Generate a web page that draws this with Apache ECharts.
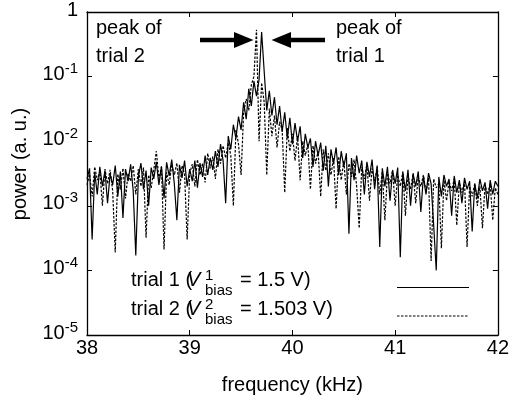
<!DOCTYPE html>
<html>
<head>
<meta charset="utf-8">
<script src="https://cdn.jsdelivr.net/npm/echarts@6/dist/echarts.min.js"></script>
<style>
html,body{margin:0;padding:0;background:#fff;}
#chart{width:512px;height:403px;}
</style>
</head>
<body>
<div id="chart"></div>
<script>
// frequency grid (kHz)
var freq = [
38,38.025,38.05,38.075,38.1,38.125,38.15,38.175,38.2,38.225,38.25,38.275,38.3,38.325,38.35,38.375,38.4,38.425,38.45,38.475,
38.5,38.525,38.55,38.575,38.6,38.625,38.65,38.675,38.7,38.725,38.75,38.775,38.8,38.825,38.85,38.875,38.9,38.925,38.95,38.975,
39,39.025,39.05,39.075,39.1,39.125,39.15,39.175,39.2,39.225,39.25,39.275,39.3,39.325,39.35,39.375,39.4,39.425,39.45,39.475,
39.5,39.525,39.55,39.575,39.6,39.625,39.65,39.675,39.7,39.725,39.75,39.775,39.8,39.825,39.85,39.875,39.9,39.925,39.95,39.975,
40,40.025,40.05,40.075,40.1,40.125,40.15,40.175,40.2,40.225,40.25,40.275,40.3,40.325,40.35,40.375,40.4,40.425,40.45,40.475,
40.5,40.525,40.55,40.575,40.6,40.625,40.65,40.675,40.7,40.725,40.75,40.775,40.8,40.825,40.85,40.875,40.9,40.925,40.95,40.975,
41,41.025,41.05,41.075,41.1,41.125,41.15,41.175,41.2,41.225,41.25,41.275,41.3,41.325,41.35,41.375,41.4,41.425,41.45,41.475,
41.5,41.525,41.55,41.575,41.6,41.625,41.65,41.675,41.7,41.725,41.75,41.775,41.8,41.825,41.85,41.875,41.9,41.925,41.95,41.975,
42
];

// trial 1 (V_bias^1 = 1.5 V) power, a.u.
var trial1 = [
2.6e-3,3.8e-3,3.0e-4,3.3e-3,1.5e-3,4.0e-3,2.0e-3,3.5e-3,1.1e-3,3.1e-3,
2.1e-3,4.2e-3,1.4e-3,3.4e-3,6.5e-4,3.7e-3,2.4e-3,4.4e-3,1.7e-3,1.7e-4,
2.8e-3,4.6e-3,1.8e-3,3.5e-3,1.0e-3,3.9e-3,2.6e-3,4.8e-3,2.1e-3,4.1e-3,
1.3e-3,4.7e-3,2.9e-3,5.2e-3,2.2e-3,6.0e-4,4.3e-3,2.7e-3,5.0e-3,2.0e-3,
3.7e-3,2.4e-3,5.0e-3,1.9e-3,4.6e-3,2.8e-3,6.0e-3,3.0e-3,5.5e-3,3.6e-3,
7.0e-3,4.0e-3,9.0e-3,5.0e-3,1.1e-3,1.2e-2,7.5e-3,1.8e-2,1.1e-2,2.4e-2,
1.5e-2,4.0e-2,2.2e-2,6.5e-2,3.5e-2,8.5e-2,5.0e-2,9.0e-2,0.49,0.12,
3.0e-2,6.0e-2,2.5e-2,4.8e-2,1.8e-2,3.5e-2,1.4e-2,2.8e-2,1.1e-2,2.3e-2,
9.0e-3,1.9e-2,1.0e-2,1.7e-2,5.5e-3,1.3e-2,8.0e-3,1.1e-2,4.0e-3,1.0e-2,
6.0e-3,9.5e-3,3.5e-3,8.5e-3,2.0e-3,7.5e-3,4.5e-3,8.0e-3,3.0e-3,7.0e-3,
4.0e-3,6.5e-3,3.7e-4,5.5e-3,2.5e-3,6.0e-3,3.2e-3,5.0e-3,1.5e-3,4.8e-3,
2.8e-3,5.2e-3,1.8e-3,4.2e-3,2.3e-4,3.8e-3,2.0e-3,4.0e-3,1.2e-3,3.5e-3,
2.2e-3,3.9e-3,1.6e-4,3.3e-3,1.7e-3,3.6e-3,1.0e-3,3.1e-3,2.0e-3,3.4e-3,
8.0e-4,2.9e-3,1.5e-3,3.2e-3,2.2e-3,5.0e-4,1.0e-4,2.8e-3,1.4e-3,3.0e-3,
2.0e-3,2.6e-3,7.0e-4,2.9e-3,1.6e-3,2.5e-3,1.1e-3,2.7e-3,1.8e-3,2.4e-3,
4.0e-4,2.2e-3,1.3e-3,2.6e-3,1.7e-3,2.3e-3,9.0e-4,2.5e-3,1.5e-3,2.4e-3,
2.0e-3
];

// trial 2 (V_bias^2 = 1.503 V) power, a.u.
var trial2 = [
2.1e-3,3.1e-3,1.4e-3,4.0e-3,2.5e-3,3.4e-3,1.0e-3,3.7e-3,2.2e-3,3.6e-3,
1.7e-3,1.9e-4,3.1e-3,1.8e-3,3.8e-3,1.3e-3,3.2e-3,2.4e-3,4.2e-3,1.5e-3,
3.7e-3,2.0e-3,3.9e-3,3.2e-4,3.0e-3,1.9e-3,3.6e-3,7.0e-3,2.6e-3,4.0e-3,
2.1e-4,3.3e-3,2.1e-3,4.4e-3,3.0e-3,4.6e-3,1.6e-3,4.2e-3,3.1e-3,3.0e-4,
3.2e-3,4.4e-3,2.0e-3,5.2e-3,3.0e-3,4.5e-3,2.3e-3,6.5e-3,3.8e-3,5.8e-3,
2.6e-3,7.5e-3,4.5e-3,8.5e-3,5.5e-3,9.5e-3,6.0e-3,1.0e-3,1.5e-2,9.0e-3,
3.0e-3,2.8e-2,4.5e-2,3.0e-2,7.5e-2,1.0e-1,0.53,1.0e-2,8.0e-2,4.0e-2,
3.0e-3,3.2e-2,1.2e-2,2.5e-2,8.0e-3,2.0e-2,1.5e-2,1.6e-3,1.6e-2,7.0e-3,
1.3e-2,5.0e-3,1.2e-2,2.5e-3,1.0e-2,6.0e-3,9.0e-3,1.8e-3,8.5e-3,4.5e-3,
7.0e-3,1.4e-3,7.5e-3,3.5e-3,6.5e-3,3.0e-3,5.5e-3,9.0e-4,5.8e-3,2.5e-3,
5.0e-3,1.5e-3,4.5e-3,2.8e-3,5.2e-3,2.0e-3,4.5e-4,4.0e-3,2.6e-3,4.4e-3,
1.2e-3,3.8e-3,2.4e-3,4.0e-3,1.5e-3,3.4e-3,6.0e-4,3.2e-3,2.2e-3,3.6e-3,
1.0e-3,3.0e-3,2.0e-3,3.4e-3,7.0e-4,2.9e-3,1.8e-3,3.2e-3,1.1e-3,2.8e-3,
2.0e-3,3.0e-3,1.6e-3,2.7e-3,1.4e-4,2.6e-3,1.9e-3,2.2e-3,2.2e-4,2.5e-3,
1.2e-3,2.4e-3,1.7e-3,2.6e-3,5.0e-4,2.3e-3,1.6e-3,2.4e-3,2.3e-4,2.0e-3,
1.4e-3,2.2e-3,1.0e-3,2.0e-3,4.5e-4,2.1e-3,1.5e-3,2.2e-3,6.0e-4,1.9e-3,
1.5e-3
];

var xTicks = [38, 39, 40, 41, 42];
var seriesNames = ['trial 1', 'trial 2'];

var FONT = '"Liberation Sans", Arial, Helvetica, sans-serif';
var chart = echarts.init(document.getElementById('chart'), null, {renderer: 'canvas'});

function pairs(ys) { return freq.map(function (f, i) { return [f, ys[i]]; }); }

function ylab(v) {
  var e = Math.round(Math.log10(v));
  if (e === 0) return '{b|1}';
  return '{b|10}{s|' + e + '}';
}

var axisLineStyle = {color: '#000', width: 1.3};

function txt(x, y, text, size, extra) {
  var st = {text: text, x: x, y: y, fill: '#000', font: (extra && extra.italic ? 'italic ' : '') + size + 'px ' + FONT,
            align: (extra && extra.align) || 'left', verticalAlign: 'middle'};
  return {type: 'text', style: st, silent: true};
}

var B1 = 287, B2 = 316;
var graphics = [
  // y-axis title
  {type: 'text', x: 20, y: 164, rotation: Math.PI / 2, silent: true,
   style: {text: 'power (a. u.)', fill: '#000', font: '20px ' + FONT, align: 'center', verticalAlign: 'middle'}},
  // annotations
  txt(96, 28, 'peak of', 20), txt(96, 56, 'trial 2', 20),
  txt(336, 28, 'peak of', 20), txt(336, 56, 'trial 1', 20),
  {type: 'polygon', silent: true, shape: {points: [[200,37.8],[234,37.8],[234,32],[253.5,40],[234,48],[234,42.2],[200,42.2]]}, style: {fill: '#000'}},
  {type: 'polygon', silent: true, shape: {points: [[325,37.8],[291,37.8],[291,32],[271.5,40],[291,48],[291,42.2],[325,42.2]]}, style: {fill: '#000'}},
  // legend line 1
  txt(131, B1 - 7, 'trial 1 (', 20),
  txt(187, B1 - 7, 'V', 20, {italic: true}),
  txt(205, B1 - 11, '1', 15),
  txt(205, B1 + 4, 'bias', 15),
  txt(240, B1 - 7, '= 1.5 V)', 20),
  {type: 'line', silent: true, shape: {x1: 397, y1: 287.5, x2: 469, y2: 287.5}, style: {stroke: '#000', lineWidth: 1}},
  // legend line 2
  txt(131, B2 - 7, 'trial 2 (', 20),
  txt(187, B2 - 7, 'V', 20, {italic: true}),
  txt(205, B2 - 11, '2', 15),
  txt(205, B2 + 4, 'bias', 15),
  txt(240, B2 - 7, '= 1.503 V)', 20),
  {type: 'line', silent: true, shape: {x1: 397, y1: 316, x2: 469, y2: 316}, style: {stroke: '#000', lineWidth: 1, lineDash: [2.5, 1.5]}}
];

var option = {
  animation: false,
  backgroundColor: '#fff',
  textStyle: {fontFamily: FONT},
  grid: {left: 87, right: 10, top: 12, bottom: 68, containLabel: false},
  xAxis: [{
    type: 'value', min: xTicks[0], max: xTicks[xTicks.length - 1], interval: 1,
    name: 'frequency (kHz)', nameLocation: 'middle', nameGap: 40,
    nameTextStyle: {fontSize: 20, color: '#000', fontFamily: FONT},
    axisLine: {show: true, lineStyle: axisLineStyle},
    axisTick: {show: true, inside: true, length: 5, lineStyle: {color: '#000', width: 1}},
    axisLabel: {fontSize: 20, color: '#000', margin: 3, fontFamily: FONT},
    splitLine: {show: false}
  }, {
    type: 'value', position: 'top', min: 38, max: 42, interval: 1,
    axisLine: {show: true, lineStyle: axisLineStyle},
    axisTick: {show: true, inside: true, length: 5, lineStyle: {color: '#000', width: 1}},
    axisLabel: {show: false}, splitLine: {show: false}
  }],
  yAxis: [{
    type: 'log', logBase: 10, min: 1e-5, max: 1,
    axisLine: {show: true, lineStyle: axisLineStyle},
    axisTick: {show: true, inside: true, length: 5, lineStyle: {color: '#000', width: 1}},
    minorTick: {show: false},
    axisLabel: {
      margin: 9, color: '#000', formatter: ylab,
      rich: {
        b: {fontSize: 20, fontFamily: FONT, color: '#000', verticalAlign: 'bottom', lineHeight: 20, padding: [0, 0, 2, 0]},
        s: {fontSize: 15, fontFamily: FONT, color: '#000', verticalAlign: 'bottom', lineHeight: 15, padding: [0, 0, 10, 0]}
      }
    },
    splitLine: {show: false}
  }, {
    type: 'log', logBase: 10, min: 1e-5, max: 1, position: 'right',
    axisLine: {show: true, lineStyle: axisLineStyle},
    axisTick: {show: true, inside: true, length: 5, lineStyle: {color: '#000', width: 1}},
    axisLabel: {show: false}, splitLine: {show: false}
  }],
  series: [{
    name: seriesNames[1], type: 'line', xAxisIndex: 0, yAxisIndex: 0,
    data: pairs(trial2), symbol: 'none', smooth: false,
    lineStyle: {color: '#000', width: 1.2, type: [2.5, 1.5]}
  }, {
    name: seriesNames[0], type: 'line', xAxisIndex: 0, yAxisIndex: 0,
    data: pairs(trial1), symbol: 'none', smooth: false,
    lineStyle: {color: '#000', width: 1.2}
  }],
  graphic: graphics
};
chart.setOption(option);
</script>
</body>
</html>
